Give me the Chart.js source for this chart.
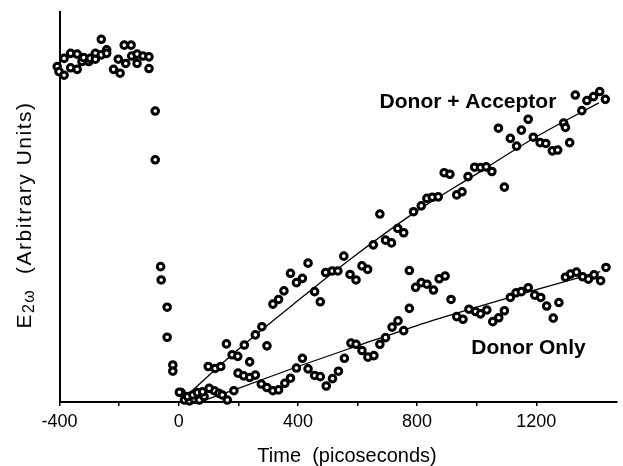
<!DOCTYPE html>
<html>
<head>
<meta charset="utf-8">
<script src="https://cdn.jsdelivr.net/npm/chart.js@4/dist/chart.umd.min.js"></script>
<style>
  html, body { margin: 0; padding: 0; background: #fff; }
  #wrap { width: 623px; height: 466px; }
</style>
</head>
<body>
<div id="wrap"><canvas id="c" width="623" height="466"></canvas></div>
<script>
// ---- data ----
const earlyTime = [-424,-408,-402,-385,-385,-363,-341,-363,-341,-325,-319,-302,-297,-280,-280,-260,-260,-242,-242,-219,-203,-197,-183,-178,-160,-158,-140,-140,-120,-100,-100,-79,-79,-61,-59,-39,-39,-20,-20,2];
const earlySignal = [88.3,86.0,84.7,83.8,88.1,89.4,89.2,85.7,85.3,87.3,88.3,87.3,88.1,89.4,87.9,93.0,89.0,90.3,89.4,85.3,87.9,84.3,91.5,86.8,91.5,88.7,89.2,86.8,88.7,88.5,85.5,74.6,62.1,34.7,31.3,24.3,16.6,9.5,7.9,2.5];

const daTime = [8,30,47,63,80,102,99,122,141,160,179,198,220,238,257,279,296,316,335,353,375,395,415,434,456,475,493,515,534,554,575,595,615,634,653,675,694,714,735,755,788,814,833,851,871,891,910,933,951,971,993,1013,1032,1051,1073,1093,1113,1134,1150,1173,1190,1213,1232,1254,1272,1292,1298,1312,1331,1353,1370,1392,1413,1432];
const daSignal = [2.4,1.4,1.8,2.4,2.6,3.5,9.1,8.6,9.1,14.9,12.1,11.7,14.6,10.3,17.2,19.3,14.4,25.1,26.3,28.5,33.0,30.6,31.7,35.6,28.3,25.7,33.2,33.6,33.6,37.4,32.7,31.3,34.9,34.0,40.3,48.2,41.5,40.8,44.5,43.4,48.8,50.3,52.2,52.5,52.6,58.8,58.4,53.1,53.9,57.8,60.2,60.1,60.3,59.1,70.2,55.1,67.6,65.6,69.7,72.5,67.9,66.5,66.3,64.4,64.6,71.5,70.4,66.5,78.7,74.7,77.3,78.3,79.6,77.6];

const doTime = [19,36,52,69,85,119,135,146,163,185,199,218,238,257,277,296,316,335,356,375,395,415,434,456,475,495,516,536,556,578,595,615,635,655,675,694,716,736,755,774,774,795,814,833,855,874,894,914,933,954,974,996,1013,1034,1054,1074,1093,1113,1132,1150,1173,1195,1215,1235,1257,1276,1298,1315,1335,1356,1375,1394,1416,1434];
const doSignal = [0.5,0.3,0.7,0.5,1.4,2.9,2.2,1.8,0.5,2.9,7.4,6.7,6.3,6.9,4.6,3.7,2.9,3.1,4.8,6.1,8.7,11.2,8.5,6.8,6.5,4.1,6.0,7.9,11.2,15.1,14.8,13.2,11.5,11.9,14.8,16.5,19.2,20.8,18.3,33.7,24.0,29.4,30.6,30.2,28.7,31.6,32.3,26.3,21.9,21.2,23.8,23.2,22.6,23.6,20.6,21.6,23.4,26.8,28.0,28.3,29.3,27.4,26.8,24.6,21.5,25.5,32.0,32.8,33.3,32.1,31.5,32.6,31.1,34.5];

const daFitTime = [10,200,400,600,800,1000,1200,1410];
const daFitSignal = [0.5,13.5,26,38,49,58.5,68,76.7];
const doFitTime = [70,200,400,600,800,1000,1200,1415];
const doFitSignal = [0,3.5,9.1,14.4,19.6,24.3,28.8,33.4];

const xTickLabels = [-400, 0, 400, 800, 1200];
const seriesNames = ['Donor + Acceptor', 'Donor Only'];
const xTitle = 'Time  (picoseconds)';

// ---- helpers ----
const pts = (xs, ys) => xs.map((x, i) => ({ x, y: ys[i] }));
const FONT = "'Liberation Sans', Arial, Helvetica, sans-serif";

const markerStyle = {
  type: 'scatter',
  showLine: false,
  pointRadius: 3.3,
  pointHoverRadius: 3.3,
  pointBorderWidth: 3,
  pointBorderColor: '#000',
  pointBackgroundColor: '#fff',
  clip: false
};
const fitStyle = {
  type: 'line',
  showLine: true,
  borderColor: '#000',
  borderWidth: 1.3,
  pointRadius: 0,
  cubicInterpolationMode: 'monotone',
  fill: false,
  clip: false
};

const labelPlugin = {
  id: 'labels',
  afterDraw(chart) {
    const ctx = chart.ctx;
    const xs = chart.scales.x, ys = chart.scales.y;
    ctx.save();
    ctx.fillStyle = '#000';
    ctx.font = 'bold 21px ' + FONT;
    ctx.textAlign = 'left';
    ctx.textBaseline = 'alphabetic';
    ctx.fillText(seriesNames[0], xs.getPixelForValue(674), ys.getPixelForValue(75.5));
    ctx.fillText(seriesNames[1], xs.getPixelForValue(982), ys.getPixelForValue(12.3));

    // x-axis title
    ctx.font = '20px ' + FONT;
    ctx.textAlign = 'center';
    ctx.textBaseline = 'middle';
    ctx.fillText(xTitle, 347, 456);

    // y-axis title with subscript
    ctx.textAlign = 'left';
    ctx.letterSpacing = '1.5px';
    const cx = 31, cy = 215;
    ctx.translate(cx, cy);
    ctx.rotate(-Math.PI / 2);
    const big = '21px ' + FONT, small = '16px ' + FONT;
    ctx.font = big; const wE = ctx.measureText('E').width;
    ctx.font = small; const wSub = ctx.measureText('2\u03c9').width;
    ctx.font = big; const rest = '  (Arbitrary Units)'; const wR = ctx.measureText(rest).width;
    let x0 = -(wE + wSub + wR) / 2;
    ctx.textBaseline = 'alphabetic';
    ctx.font = big; ctx.fillText('E', x0, 0); x0 += wE;
    ctx.font = small; ctx.fillText('2\u03c9', x0, 3); x0 += wSub;
    ctx.font = big; ctx.fillText(rest, x0, 0);
    ctx.restore();
  }
};

new Chart(document.getElementById('c'), {
  data: {
    datasets: [
      Object.assign({ label: 'Before t = 0', data: pts(earlyTime, earlySignal) }, markerStyle),
      Object.assign({ label: seriesNames[0], data: pts(daTime, daSignal) }, markerStyle),
      Object.assign({ label: seriesNames[1], data: pts(doTime, doSignal) }, markerStyle),
      Object.assign({ label: seriesNames[0] + ' fit', data: pts(daFitTime, daFitSignal) }, fitStyle),
      Object.assign({ label: seriesNames[1] + ' fit', data: pts(doFitTime, doFitSignal) }, fitStyle)
    ]
  },
  options: {
    responsive: false,
    devicePixelRatio: 1,
    animation: false,
    layout: { padding: { top: 12, right: 0, bottom: 0, left: 0 } },
    plugins: { legend: { display: false }, tooltip: { enabled: false } },
    scales: {
      x: {
        type: 'linear',
        min: -400,
        max: 1470,
        afterBuildTicks: s => { s.ticks = s.ticks.filter(t => t.value % 200 === 0); },
        afterFit: s => { s.height = 64; },
        ticks: {
          stepSize: 200,
          autoSkip: false,
          maxRotation: 0,
          color: '#000',
          padding: 5,
          font: { family: FONT, size: 18 },
          callback: v => (xTickLabels.includes(v) ? String(v) : '')
        },
        grid: { display: true, drawOnChartArea: false, drawTicks: true, tickLength: 4, color: '#000', lineWidth: 1.5 },
        border: { display: true, color: '#000', width: 2 },
        title: { display: false }
      },
      y: {
        type: 'linear',
        min: 0,
        max: 100,
        afterFit: s => { s.width = 59.6; },
        ticks: { display: false },
        grid: { display: false, drawTicks: false },
        border: { display: true, color: '#000', width: 2 }
      }
    }
  },
  plugins: [labelPlugin]
});
</script>
</body>
</html>
